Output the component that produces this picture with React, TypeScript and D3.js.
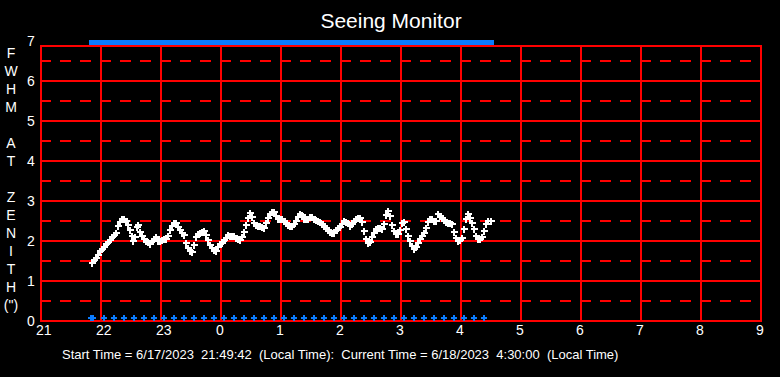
import React from "react";
import * as d3 from "d3";

// minutes after 21:00 (local) and seeing FWHM (arcsec)
const seeingMinutes = [51,53,55,57,59,61,63,65,67,69,71,73,75,77,79,81,83,85,87,89,91,92,94,96,97,99,101,103,105,107,109,111,113,115,117,119,121,123,125,127,129,131,133,135,137,139,141,143,145,147,149,151,153,155,157,159,161,163,165,167,169,171,173,175,177,179,181,183,185,187,189,191,193,195,197,199,201,203,205,207,209,211,213,215,217,219,221,223,225,227,229,231,233,235,237,239,241,243,245,247,249,251,253,255,257,259,261,263,265,267,269,271,273,275,277,279,281,283,285,287,289,291,293,295,297,299,301,303,305,307,309,311,313,315,317,319,321,323,325,327,329,331,333,335,337,339,341,343,345,347,349,351,353,355,357,359,361,363,365,367,369,371,373,375,377,379,381,383,385,387,389,391,393,395,397,399,401,403,405,407,409,411,413,415,417,419,421,423,425,427,429,431,433,435,437,439,441,443,445,447,450];
const seeingFwhm = [1.46,1.52,1.58,1.66,1.74,1.79,1.85,1.92,1.97,2.03,2.1,2.16,2.21,2.37,2.47,2.55,2.56,2.5,2.4,2.27,2.12,2.0,2.1,2.35,2.4,2.22,2.12,2.04,2.0,1.97,1.93,2.0,2.05,2.1,2.0,2.0,2.02,2.04,2.06,2.12,2.27,2.38,2.46,2.45,2.36,2.27,2.2,2.14,1.96,1.83,1.75,1.73,1.9,2.1,2.18,2.21,2.23,2.25,2.15,2.02,1.9,1.83,1.78,1.75,1.84,1.93,1.96,2.02,2.08,2.15,2.13,2.12,2.12,2.08,2.04,2.02,2.1,2.22,2.4,2.58,2.7,2.6,2.45,2.39,2.37,2.37,2.36,2.33,2.45,2.58,2.68,2.73,2.72,2.62,2.56,2.54,2.54,2.5,2.46,2.4,2.37,2.37,2.42,2.5,2.6,2.68,2.66,2.55,2.54,2.55,2.6,2.6,2.55,2.52,2.5,2.47,2.43,2.38,2.32,2.28,2.23,2.21,2.21,2.28,2.33,2.36,2.42,2.5,2.47,2.44,2.38,2.42,2.5,2.56,2.58,2.58,2.48,2.25,2.05,1.96,1.98,2.1,2.2,2.29,2.32,2.32,2.3,2.42,2.65,2.75,2.62,2.4,2.25,2.18,2.17,2.28,2.45,2.48,2.3,2.12,2.0,1.88,1.8,1.86,1.95,2.05,2.12,2.21,2.33,2.48,2.54,2.54,2.5,2.5,2.67,2.62,2.58,2.52,2.48,2.46,2.44,2.42,2.23,2.07,2.0,2.02,2.07,2.3,2.55,2.67,2.58,2.45,2.3,2.12,2.04,2.04,2.1,2.25,2.42,2.5,2.5];

// status markers (minutes after 21:00)
const lowMarkerMinutes = [49.7,52,62.7,72.7,82.7,92.7,102.7,112.7,122.7,132.7,142.7,152.7,162.7,172.7,182.7,192.7,202.7,212.7,222.7,232.7,242.7,252.7,262.7,272.7,282.7,292.7,302.7,312.7,322.7,332.7,342.7,352.7,362.7,372.7,382.7,392.7,402.7,412.7,422.7,432.7,442.7];
const highMarkerStart = 49.7;
const highMarkerEnd = 450;

const hourTicks = [0,60,120,180,240,300,360,420,480,540,600,660,720];
const hourLabels = ["21","22","23","0","1","2","3","4","5","6","7","8","9"];
const yTicks = [0,1,2,3,4,5,6,7];
const yHalfTicks = [0.5,1.5,2.5,3.5,4.5,5.5,6.5];
const yTitleLetters = ["F","W","H","M","","A","T","","Z","E","N","I","T","H","(\")"];

const title = "Seeing Monitor";
const footer = "Start Time = 6/17/2023  21:49:42  (Local Time):  Current Time = 6/18/2023  4:30:00  (Local Time)";

const W = 780, H = 377;
const RED = "#ff0000";
const BLUE = "#0a7cff";
const FONT = "Liberation Sans, Arial, sans-serif";

export default function App() {
  const x = d3.scaleLinear().domain([0, 720]).range([41, 761]);
  const y = d3.scaleLinear().domain([0, 7]).range([321, 41]);
  const frameTop = y(7) + 5;
  const frameBottom = y(0);

  const highMinutes = d3.range(highMarkerStart, highMarkerEnd + 0.01, 1);
  const plus = (s: number) => `M${-s},0H${s}M0,${-s}V${s}`;

  return (
    <svg width={W} height={H} style={{ position: "absolute", left: 0, top: 0, background: "#000" }}>
      <rect x={0} y={0} width={W} height={H} fill="#000" />
      <text x={W / 2 + 1} y={28} fill="#fff" fontFamily={FONT} fontSize={21} textAnchor="middle">{title}</text>

      <g shapeRendering="crispEdges">
        {/* dashed half-unit grid */}
        {yHalfTicks.map((v) => (
          <line key={"h" + v} x1={x(0) - 1} x2={x(720)} y1={y(v)} y2={y(v)} stroke={RED} strokeWidth={2} strokeDasharray="11 9" />
        ))}
        {/* solid unit grid */}
        {yTicks.filter((v) => v < 7).map((v) => (
          <line key={"s" + v} x1={x(0) - 1} x2={x(720) + 1} y1={y(v)} y2={y(v)} stroke={RED} strokeWidth={2} />
        ))}
        <line x1={x(0) - 1} x2={x(720) + 1} y1={frameTop} y2={frameTop} stroke={RED} strokeWidth={2} />
        {hourTicks.map((m) => (
          <line key={"v" + m} x1={x(m)} x2={x(m)} y1={frameTop - 1} y2={frameBottom + 1} stroke={RED} strokeWidth={2} />
        ))}
      </g>

      {/* y tick labels */}
      {yTicks.map((v) => (
        <text key={"yl" + v} x={27} y={y(v) + 5} fill="#fff" fontFamily={FONT} fontSize={14}>{v}</text>
      ))}
      {/* x tick labels */}
      {hourTicks.map((m, i) => (
        <text key={"xl" + m} x={x(m) - 5} y={335} fill="#fff" fontFamily={FONT} fontSize={14}>{hourLabels[i]}</text>
      ))}
      {/* y title */}
      {yTitleLetters.map((c, i) => (
        <text key={"yt" + i} x={11} y={58 + i * 18} fill="#fff" fontFamily={FONT} fontSize={14} textAnchor="middle">{c}</text>
      ))}

      {/* high status markers */}
      <g stroke={BLUE} strokeWidth={5} fill="none" shapeRendering="crispEdges">
        {highMinutes.map((m, i) => (
          <path key={"hm" + i} d={plus(2.5)} transform={`translate(${Math.round(x(m))},${y(7) + 1.5})`} />
        ))}
      </g>
      {/* low status markers */}
      <g stroke={BLUE} strokeWidth={1.5} fill="none" shapeRendering="crispEdges">
        {lowMarkerMinutes.map((m, i) => (
          <path key={"lm" + i} d={plus(3)} transform={`translate(${Math.round(x(m))},${y(0) - 3})`} />
        ))}
      </g>
      {/* seeing data */}
      <g stroke="#fff" strokeWidth={1.6} fill="none" shapeRendering="crispEdges">
        {seeingMinutes.map((m, i) => (
          <path key={"p" + i} d={plus(3.5)} transform={`translate(${Math.round(x(m))},${Math.round(y(seeingFwhm[i]))})`} />
        ))}
      </g>

      <text x={62} y={359} fill="#fff" fontFamily={FONT} fontSize={13} style={{ whiteSpace: "pre" }}>{footer}</text>
    </svg>
  );
}
